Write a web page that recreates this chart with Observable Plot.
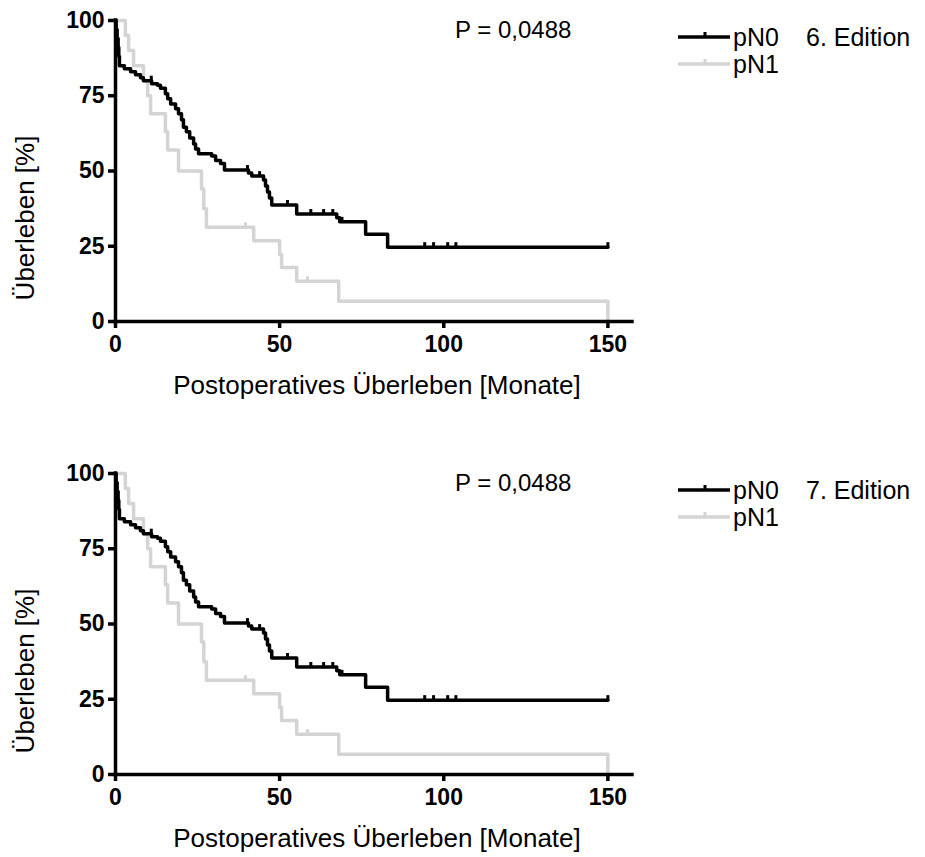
<!DOCTYPE html>
<html>
<head>
<meta charset="utf-8">
<script src="https://cdn.jsdelivr.net/npm/d3@7"></script>
<script src="https://cdn.jsdelivr.net/npm/@observablehq/plot@0.6"></script>
<style>
  html, body { margin: 0; padding: 0; background: #fff; }
  #wrap { position: relative; width: 925px; height: 857px; font-family: "Liberation Sans", Arial, sans-serif; color: #000; }
  .panel { position: absolute; left: 0; width: 925px; }
  .abs { position: absolute; white-space: nowrap; line-height: 1; }
</style>
</head>
<body>
<div id="wrap"></div>
<script>
// ---- Data ----
const editions = ["6. Edition", "7. Edition"];
const pValueLabel = "P = 0,0488";
const seriesNames = ["pN0", "pN1"];
const xTicks = [0, 50, 100, 150];
const yTicks = [0, 25, 50, 75, 100];
const xLabel = "Postoperatives Überleben [Monate]";
const yLabel = "Überleben [%]";

// pN0 Kaplan-Meier steps (months, survival %)
const pN0Time = [0, 0.2, 0.5, 0.8, 1.0, 1.2, 2.7, 4.6, 6.1, 7.6, 8.5, 11.0, 12.8, 13.7, 15.2, 15.9, 16.8, 18.3, 19.2, 20.1, 20.7, 21.6, 22.6, 23.8, 24.4, 25.3, 29.3, 30.5, 32.0, 33.2, 40.5, 41.5, 45.1, 45.7, 46.3, 46.9, 47.6, 55.2, 67.4, 68.3, 76.2, 82.9, 150];
const pN0Surv = [100, 97, 94, 91, 88, 85, 84, 83, 82, 81, 80, 79, 78.5, 77.5, 75.7, 74, 72.3, 70.7, 69, 67, 64.5, 63, 61, 59, 57.3, 55.7, 55, 53.5, 52.5, 50.3, 49.3, 48.3, 47, 45, 43, 41, 38.7, 35.7, 34.5, 33.1, 29, 24.7, 24.7];
// pN0 censored marks
const pN0CensTime = [10.9, 40.2, 43.9, 52.4, 59.5, 63.4, 66.2, 69.0, 94.2, 96.9, 101.2, 103.7, 150];
const pN0CensSurv = [80, 50.3, 48.3, 38.7, 35.7, 35.7, 35.7, 33.1, 24.7, 24.7, 24.7, 24.7, 24.7];

// pN1 Kaplan-Meier steps
const pN1Time = [0, 3.0, 4.0, 5.5, 8.5, 9.8, 10.7, 15.2, 15.9, 19.2, 26.2, 26.9, 27.7, 42.1, 50.0, 50.6, 55.2, 68.0, 150];
const pN1Surv = [100, 95, 90, 85, 80, 75, 69, 63, 57, 50, 44, 37.5, 31.3, 26.8, 22.3, 17.9, 13.4, 6.7, 0];
const pN1CensTime = [39.6, 58.5];
const pN1CensSurv = [31.3, 13.4];

const colors = ["#000000", "#d4d4d4"];

// ---- Build tables ----
const zip = (t, s) => t.map((d, i) => ({t: d, s: s[i]}));
const pN0 = zip(pN0Time, pN0Surv);
const pN1 = zip(pN1Time, pN1Surv);
const pN0Cens = zip(pN0CensTime, pN0CensSurv);
const pN1Cens = zip(pN1CensTime, pN1CensSurv);

const tickSymbol = {
  draw(ctx, size) {
    const l = Math.sqrt(size / Math.PI);
    ctx.moveTo(0, 1);
    ctx.lineTo(0, -l);
  }
};

const wrap = document.getElementById("wrap");

function panel(edition, top, height) {
  const div = document.createElement("div");
  div.className = "panel";
  div.style.top = top + "px";
  div.style.height = height + "px";

  const plot = Plot.plot({
    width: 925,
    height,
    marginLeft: 115,
    marginRight: 293,
    marginTop: 20,
    marginBottom: height - 321,
    x: {domain: [0, 157.5]},
    y: {domain: [0, 100]},
    style: {fontFamily: "'Liberation Sans', Arial, sans-serif", fontSize: "23px", fontWeight: "bold", color: "#000", background: "transparent", overflow: "visible"},
    marks: [
      Plot.axisX({ticks: xTicks, tickSize: 7, strokeWidth: 3.5, tickPadding: 7, label: null, fontSize: 23, fontWeight: "bold"}),
      Plot.axisY({ticks: yTicks, tickSize: 7, strokeWidth: 3.5, tickPadding: 4, label: null, fontSize: 23, fontWeight: "bold"}),
      Plot.line(pN1, {x: "t", y: "s", curve: "step-after", stroke: colors[1], strokeWidth: 3.5}),
      Plot.dot(pN1Cens, {x: "t", y: "s", symbol: tickSymbol, r: 5, stroke: colors[1], strokeWidth: 3, fill: "none"}),
      Plot.line(pN0, {x: "t", y: "s", curve: "step-after", stroke: colors[0], strokeWidth: 3.5}),
      Plot.dot(pN0Cens, {x: "t", y: "s", symbol: tickSymbol, r: 5, stroke: colors[0], strokeWidth: 3, fill: "none"}),
      Plot.ruleY([0], {strokeWidth: 3.5, strokeLinecap: "square"}),
      Plot.ruleX([0], {strokeWidth: 3.5, strokeLinecap: "square"})
    ]
  });
  plot.style.position = "absolute";
  plot.style.left = "0";
  plot.style.top = "0";
  div.appendChild(plot);

  // axis titles
  const yt = document.createElement("div");
  yt.className = "abs";
  yt.textContent = yLabel;
  yt.style.cssText += "left:25px;top:218px;font-size:26px;transform:translate(-50%,-50%) rotate(-90deg);";
  div.appendChild(yt);

  const xt = document.createElement("div");
  xt.className = "abs";
  xt.textContent = xLabel;
  xt.style.cssText += "left:377px;top:385px;font-size:26px;transform:translate(-50%,-50%);";
  div.appendChild(xt);

  // P value
  const pv = document.createElement("div");
  pv.className = "abs";
  pv.textContent = pValueLabel;
  pv.style.cssText += "left:455px;top:30px;font-size:24px;transform:translateY(-50%);";
  div.appendChild(pv);

  // legend
  const rows = [37, 64];
  seriesNames.forEach((name, i) => {
    const svgNS = "http://www.w3.org/2000/svg";
    const svg = document.createElementNS(svgNS, "svg");
    svg.setAttribute("width", 56);
    svg.setAttribute("height", 12);
    svg.style.position = "absolute";
    svg.style.left = "676px";
    svg.style.top = (rows[i] - 6) + "px";
    const ln = document.createElementNS(svgNS, "line");
    ln.setAttribute("x1", 2); ln.setAttribute("x2", 54);
    ln.setAttribute("y1", 6); ln.setAttribute("y2", 6);
    ln.setAttribute("stroke", colors[i]); ln.setAttribute("stroke-width", 3.5);
    svg.appendChild(ln);
    const tk = document.createElementNS(svgNS, "line");
    tk.setAttribute("x1", 29); tk.setAttribute("x2", 29);
    tk.setAttribute("y1", 7); tk.setAttribute("y2", 1);
    tk.setAttribute("stroke", colors[i]); tk.setAttribute("stroke-width", 3);
    svg.appendChild(tk);
    div.appendChild(svg);

    const t = document.createElement("div");
    t.className = "abs";
    t.textContent = name;
    t.style.cssText += `left:733px;top:${rows[i]}px;font-size:25px;transform:translateY(-50%);`;
    div.appendChild(t);
  });
  const ed = document.createElement("div");
  ed.className = "abs";
  ed.textContent = edition;
  ed.style.cssText += "left:806px;top:37px;font-size:25px;transform:translateY(-50%);";
  div.appendChild(ed);

  wrap.appendChild(div);
}

panel(editions[0], 0, 453);
panel(editions[1], 453, 404);
</script>
</body>
</html>
